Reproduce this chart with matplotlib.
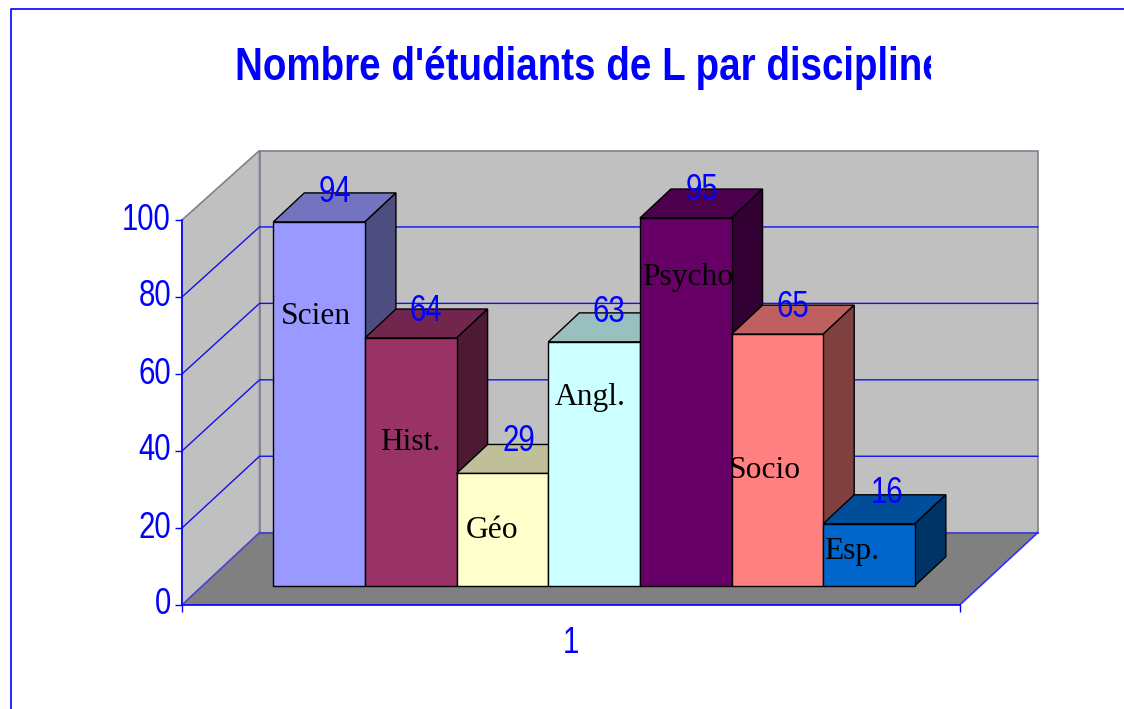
import os
import tempfile

import matplotlib
matplotlib.use('Agg')
import matplotlib.pyplot as plt
from fontTools.ttLib import TTFont
from matplotlib.colors import to_rgb
from matplotlib.font_manager import FontProperties, findfont
from matplotlib.patches import Polygon
from matplotlib.transforms import Bbox

disciplines = ['Scien', 'Hist.', 'Géo', 'Angl.', 'Psycho', 'Socio', 'Esp.']
students = [94, 64, 29, 63, 95, 65, 16]
bar_colors = ['#9999FF', '#993366', '#FFFFCC', '#CCFFFF', '#660066', '#FF8080', '#0066CC']
axis_ticks = [0, 20, 40, 60, 80, 100]
grid_values = [20, 40, 60, 80]
series_name = ['1']
title = "Nombre d'étudiants de L par discipline"

W, H = 1124, 709
BLUE = '#0000FF'
SERIF = 'Liberation Serif'

# bar plane: pixel position of the first bar and of value 0, and its scale
BAR_LEFT, BAR_BASE = 273.3, 585.7
BAR_W, PX_PER_UNIT = 91.65, 3.87
DEPTH_X, DEPTH_Y = 31 / BAR_W, 29 / PX_PER_UNIT

# inner label centres and value label nudges, in pixels
inner_pos = [(316, 316), (410, 443), (492, 530), (590, 398), (688, 278), (765, 470), (852, 552)]
nudge = [(1, -1), (0, 1), (1, -3.5), (0, -1), (1, 0), (0, 1), (3, -2)]


def narrow_font(weight, k):
    # the original text is squeezed sideways, so make a condensed copy of the font
    font = TTFont(findfont(FontProperties(family='Liberation Sans', weight=weight)))
    glyf = font['glyf']
    hmtx = font['hmtx']
    for name in font.getGlyphOrder():
        glyph = glyf[name]
        if glyph.isComposite():
            for comp in glyph.components:
                comp.x = round(comp.x * k)
        elif glyph.numberOfContours > 0:
            glyph.coordinates.scale((k, 1))
            glyph.coordinates.toInt()
        adv, lsb = hmtx[name]
        hmtx[name] = (round(adv * k), round(lsb * k))
    for tag in ['hdmx', 'LTSH', 'VDMX', 'fpgm', 'prep', 'cvt ']:
        if tag in font:
            del font[tag]
    path = os.path.join(tempfile.mkdtemp(), f'narrow_{weight}.ttf')
    font.save(path)
    return FontProperties(fname=path)


def dx(px):
    return (px - BAR_LEFT) / BAR_W


def dy(py):
    return (BAR_BASE - py) / PX_PER_UNIT


def shade(color, k):
    return tuple(c * k for c in to_rgb(color))


label_font = narrow_font('normal', 0.8)
title_font = narrow_font('bold', 0.84)

fig = plt.figure(figsize=(W / 100, H / 100), dpi=100, facecolor='white')
ax = fig.add_axes([0, 0, 1, 1])
ax.set_xlim(dx(0), dx(W))
ax.set_ylim(dy(H), dy(0))
ax.axis('off')

# outer border
ax.plot([dx(W), dx(10.7), dx(10.7)], [dy(8.7), dy(8.7), dy(H)], color=BLUE, lw=1.2)

# walls and floor
wall_edge = '#808090'
ax.add_patch(Polygon([(dx(259.5), dy(150.5)), (dx(1037.7), dy(150.5)), (dx(1037.7), dy(532.7)), (dx(259.5), dy(532.7))],
                     fc='#C0C0C0', ec=wall_edge, lw=1.2, zorder=1))
ax.add_patch(Polygon([(dx(182), dy(220)), (dx(259.5), dy(150.5)), (dx(259.5), dy(532.7)), (dx(182), dy(605))],
                     fc='#C0C0C0', ec=wall_edge, lw=1.2, zorder=1))
ax.add_patch(Polygon([(dx(182), dy(605)), (dx(259.5), dy(532.7)), (dx(1037.7), dy(532.7)), (dx(959.7), dy(605))],
                     fc='#808080', ec='none', zorder=1.5))
ax.plot([dx(182), dx(259.5)], [dy(605), dy(532.7)], color='#4848D8', lw=1.2, zorder=2)
ax.plot([dx(259.5), dx(1037.7)], [dy(532.7), dy(532.7)], color='#4848C0', lw=1.5, zorder=2)
ax.plot([dx(959.7), dx(1037.7)], [dy(605), dy(532.7)], color='#3030FF', lw=1.2, zorder=2)

# gridlines, front value to back wall
for v in grid_values:
    front_y = 605 - v * 3.85
    back_y = 532.7 - v * 3.822
    ax.plot([dx(182), dx(259.5), dx(1037.7)], [dy(front_y), dy(back_y), dy(back_y)], color='#1010F0', lw=1, zorder=2)

for i, (name, val, col) in enumerate(zip(disciplines, students, bar_colors)):
    z = 3 + i
    ax.bar(i, val, width=1, align='edge', color=col, edgecolor='black', lw=1, zorder=z + 0.2)
    ax.add_patch(Polygon([(i, val), (i + DEPTH_X, val + DEPTH_Y), (i + 1 + DEPTH_X, val + DEPTH_Y), (i + 1, val)],
                         fc=shade(col, 0.75), ec='black', lw=1, zorder=z))
    ax.add_patch(Polygon([(i + 1, 0), (i + 1 + DEPTH_X, DEPTH_Y), (i + 1 + DEPTH_X, val + DEPTH_Y), (i + 1, val)],
                         fc=shade(col, 0.5), ec='black', lw=1, zorder=z))
    ax.text(dx(inner_pos[i][0]), dy(inner_pos[i][1]), name, family=SERIF, fontsize=22.7, color='black',
            ha='center', va='center', zorder=20)
    ax.annotate(str(val), (i + 0.5, val), xytext=(15 + nudge[i][0], 28 - nudge[i][1]), textcoords='offset pixels',
                fontproperties=label_font, fontsize=26.5, color=BLUE, ha='center', va='center', zorder=21)

# front axis
front = fig.add_axes([182 / W, (H - 605) / H, (959.7 - 182) / W, 385 / H], zorder=5)
front.patch.set_visible(False)
front.set_xlim(0, 1)
front.set_ylim(0, 100)
for side in ['top', 'right']:
    front.spines[side].set_visible(False)
for side in ['left', 'bottom']:
    front.spines[side].set_color(BLUE)
    front.spines[side].set_linewidth(1.2)
front.set_yticks(axis_ticks)
front.set_xticks([0, 1])
front.set_xticklabels([])
front.set_xticks([0.5], labels=series_name, minor=True)
front.tick_params(axis='both', which='major', color=BLUE, length=5, width=1, labelcolor=BLUE)
front.tick_params(axis='x', which='minor', length=0, labelcolor=BLUE, pad=15)
front.tick_params(axis='y', pad=3)
for lab in front.get_yticklabels():
    lab.set_fontproperties(label_font)
    lab.set_fontsize(26.5)
    lab.set_verticalalignment('center')
for lab in front.get_xticklabels(minor=True):
    lab.set_fontproperties(label_font)
    lab.set_fontsize(26.5)

# title is cut off on the right in the original
t = fig.text(235 / W, (H - 80) / H, title, fontproperties=title_font, fontsize=33, color=BLUE,
             ha='left', va='baseline')
t.set_clip_box(Bbox([[0, 0], [931, H]]))
t.set_clip_on(True)

fig.savefig('out.png', dpi=100)
